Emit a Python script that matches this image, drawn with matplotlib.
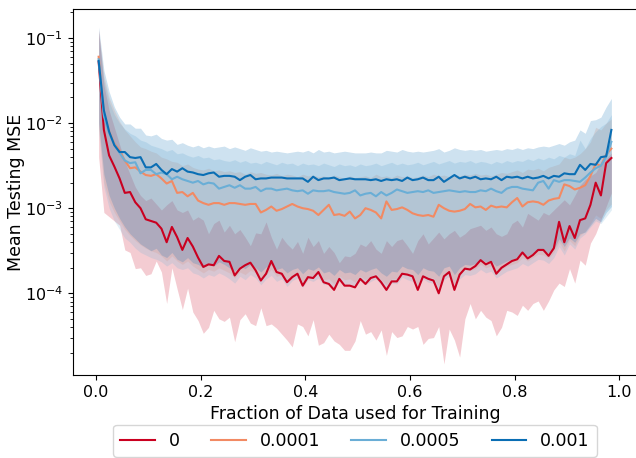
import numpy as np
import matplotlib
matplotlib.use("Agg")
import matplotlib.pyplot as plt

# ── data (log10 of MSE) ───────────────────────────────────────────────────────
frac = np.arange(0.005, 0.99, 0.01)  # 99 training fractions
labels = ["0", "0.0001", "0.0005", "0.001"]
colours = ["#ca0020", "#f28a63", "#6aaed6", "#0a6eb4"]

mean_0 = [
    -1.28, -2.08, -2.38, -2.51, -2.65, -2.82, -2.81, -2.93, -3.00, -3.13,
    -3.15, -3.17, -3.24, -3.40, -3.22, -3.34, -3.49, -3.35, -3.45, -3.58,
    -3.69, -3.66, -3.67, -3.56, -3.62, -3.63, -3.79, -3.71, -3.67, -3.64,
    -3.73, -3.85, -3.77, -3.62, -3.75, -3.77, -3.87, -3.81, -3.77, -3.91,
    -3.81, -3.82, -3.75, -3.87, -3.89, -3.96, -3.83, -3.91, -3.91, -3.93,
    -3.83, -3.89, -3.82, -3.80, -3.87, -3.96, -3.86, -3.86, -3.77, -3.78,
    -3.80, -3.96, -3.80, -3.83, -3.85, -4.00, -3.80, -3.75, -3.96, -3.78,
    -3.71, -3.72, -3.68, -3.61, -3.66, -3.63, -3.77, -3.70, -3.66, -3.62,
    -3.60, -3.52, -3.59, -3.55, -3.49, -3.49, -3.56, -3.47, -3.16, -3.40,
    -3.21, -3.35, -3.14, -3.12, -2.96, -2.70, -2.85, -2.47, -2.41]
lo_0 = [
    -2.40, -3.05, -3.10, -3.15, -3.20, -3.49, -3.52, -3.71, -3.70, -3.79,
    -3.77, -3.62, -3.75, -4.12, -3.70, -3.95, -4.19, -3.94, -4.22, -4.32,
    -4.47, -4.40, -4.20, -4.30, -4.33, -4.28, -4.57, -4.31, -4.24, -4.35,
    -4.38, -4.17, -4.38, -4.36, -4.41, -4.48, -4.55, -4.63, -4.36, -4.39,
    -4.50, -4.31, -4.61, -4.58, -4.48, -4.56, -4.60, -4.67, -4.67, -4.56,
    -4.32, -4.48, -4.45, -4.55, -4.43, -4.73, -4.45, -4.52, -4.50, -4.39,
    -4.42, -4.39, -4.60, -4.53, -4.52, -4.39, -4.83, -4.42, -4.55, -4.75,
    -4.30, -4.12, -4.30, -4.20, -4.28, -4.32, -4.50, -4.40, -4.20, -4.22,
    -4.26, -4.14, -4.20, -4.12, -4.09, -4.20, -4.09, -3.96, -3.88, -3.92,
    -3.71, -3.88, -3.61, -3.67, -3.41, -3.30, -3.14, -2.98, -2.82]
hi_0 = [
    -0.90, -1.55, -1.85, -2.05, -2.25, -2.45, -2.60, -2.75, -2.85, -2.91,
    -2.88, -2.95, -3.02, -2.96, -2.91, -3.02, -3.05, -3.02, -3.14, -3.10,
    -3.14, -3.30, -3.18, -3.14, -3.28, -3.20, -3.30, -3.25, -3.34, -3.44,
    -3.29, -3.30, -3.16, -3.34, -3.48, -3.34, -3.42, -3.48, -3.39, -3.53,
    -3.34, -3.45, -3.38, -3.53, -3.45, -3.52, -3.64, -3.56, -3.57, -3.53,
    -3.42, -3.45, -3.38, -3.48, -3.53, -3.38, -3.45, -3.38, -3.36, -3.44,
    -3.53, -3.38, -3.30, -3.42, -3.35, -3.28, -3.36, -3.30, -3.26, -3.34,
    -3.30, -3.24, -3.22, -3.20, -3.26, -3.22, -3.30, -3.33, -3.30, -3.18,
    -3.14, -3.22, -3.06, -3.10, -3.14, -3.05, -3.08, -3.02, -2.96, -2.90,
    -2.96, -2.85, -2.73, -2.66, -2.62, -2.58, -2.47, -2.42, -2.35]

mean_1 = [
    -1.22, -1.90, -2.10, -2.24, -2.32, -2.44, -2.53, -2.52, -2.57, -2.61,
    -2.62, -2.60, -2.65, -2.71, -2.68, -2.82, -2.81, -2.86, -2.82, -2.91,
    -2.94, -2.96, -2.94, -2.94, -2.96, -2.94, -2.94, -2.95, -2.96, -2.95,
    -2.95, -3.05, -3.02, -2.98, -3.03, -3.01, -2.98, -2.95, -2.98, -3.00,
    -3.01, -3.03, -3.08, -3.02, -2.96, -3.08, -3.07, -3.09, -3.04, -3.12,
    -3.08, -3.00, -3.02, -3.05, -3.12, -2.92, -3.02, -3.01, -2.99, -3.02,
    -3.06, -3.08, -3.09, -3.08, -3.10, -2.96, -3.00, -3.03, -3.04, -3.03,
    -3.01, -2.95, -2.99, -2.98, -3.02, -2.97, -2.99, -2.98, -2.99, -2.93,
    -2.88, -2.98, -2.93, -2.92, -2.93, -2.96, -2.91, -2.89, -2.88, -2.72,
    -2.74, -2.78, -2.76, -2.73, -2.62, -2.48, -2.50, -2.37, -2.30]
lo_1 = [
    -2.05, -2.70, -2.92, -3.05, -3.15, -3.25, -3.32, -3.38, -3.43, -3.47,
    -3.50, -3.52, -3.56, -3.62, -3.56, -3.62, -3.66, -3.62, -3.68, -3.72,
    -3.76, -3.72, -3.74, -3.70, -3.73, -3.76, -3.82, -3.75, -3.78, -3.73,
    -3.76, -3.84, -3.78, -3.72, -3.80, -3.78, -3.86, -3.80, -3.77, -3.87,
    -3.79, -3.80, -3.76, -3.84, -3.83, -3.89, -3.80, -3.84, -3.83, -3.87,
    -3.80, -3.84, -3.80, -3.77, -3.84, -3.90, -3.83, -3.83, -3.76, -3.78,
    -3.80, -3.90, -3.78, -3.81, -3.82, -3.92, -3.78, -3.74, -3.90, -3.77,
    -3.72, -3.73, -3.71, -3.66, -3.70, -3.68, -3.76, -3.72, -3.68, -3.66,
    -3.64, -3.58, -3.62, -3.58, -3.54, -3.55, -3.59, -3.52, -3.40, -3.50,
    -3.38, -3.44, -3.32, -3.27, -3.18, -3.08, -3.12, -3.02, -2.95]
hi_1 = [
    -0.92, -1.45, -1.70, -1.85, -1.98, -2.08, -2.15, -2.22, -2.28, -2.30,
    -2.33, -2.35, -2.40, -2.42, -2.45, -2.46, -2.50, -2.48, -2.52, -2.54,
    -2.55, -2.53, -2.56, -2.55, -2.57, -2.56, -2.58, -2.57, -2.60, -2.57,
    -2.59, -2.58, -2.60, -2.61, -2.59, -2.62, -2.60, -2.61, -2.63, -2.60,
    -2.62, -2.61, -2.63, -2.62, -2.64, -2.61, -2.63, -2.65, -2.62, -2.64,
    -2.63, -2.62, -2.64, -2.60, -2.63, -2.62, -2.64, -2.61, -2.63, -2.62,
    -2.64, -2.63, -2.61, -2.63, -2.60, -2.62, -2.61, -2.63, -2.60, -2.62,
    -2.60, -2.61, -2.59, -2.61, -2.60, -2.62, -2.60, -2.58, -2.59, -2.57,
    -2.55, -2.58, -2.54, -2.55, -2.53, -2.56, -2.52, -2.50, -2.48, -2.40,
    -2.42, -2.40, -2.36, -2.30, -2.22, -2.05, -2.08, -2.00, -1.95]

mean_2 = [
    -1.25, -1.92, -2.12, -2.25, -2.35, -2.44, -2.47, -2.46, -2.59, -2.55,
    -2.55, -2.60, -2.58, -2.60, -2.66, -2.63, -2.66, -2.68, -2.70, -2.68,
    -2.72, -2.70, -2.71, -2.77, -2.75, -2.73, -2.76, -2.73, -2.77, -2.77,
    -2.75, -2.80, -2.77, -2.77, -2.79, -2.78, -2.77, -2.79, -2.80, -2.79,
    -2.83, -2.79, -2.80, -2.80, -2.79, -2.81, -2.82, -2.83, -2.82, -2.79,
    -2.85, -2.83, -2.82, -2.86, -2.81, -2.85, -2.82, -2.78, -2.80, -2.82,
    -2.81, -2.80, -2.81, -2.79, -2.82, -2.81, -2.80, -2.79, -2.80, -2.81,
    -2.80, -2.81, -2.81, -2.79, -2.80, -2.77, -2.80, -2.82, -2.77, -2.75,
    -2.75, -2.77, -2.78, -2.79, -2.70, -2.68, -2.77, -2.67, -2.69, -2.67,
    -2.67, -2.68, -2.69, -2.64, -2.58, -2.53, -2.50, -2.40, -2.22]
lo_2 = [
    -2.10, -2.75, -3.00, -3.15, -3.25, -3.35, -3.40, -3.47, -3.52, -3.55,
    -3.58, -3.60, -3.63, -3.68, -3.64, -3.70, -3.72, -3.70, -3.76, -3.78,
    -3.82, -3.78, -3.80, -3.76, -3.79, -3.83, -3.88, -3.80, -3.84, -3.78,
    -3.82, -3.90, -3.83, -3.79, -3.86, -3.83, -3.92, -3.85, -3.82, -3.93,
    -3.84, -3.86, -3.82, -3.90, -3.88, -3.95, -3.86, -3.90, -3.89, -3.93,
    -3.85, -3.90, -3.86, -3.83, -3.90, -3.97, -3.88, -3.89, -3.81, -3.84,
    -3.86, -3.95, -3.83, -3.87, -3.88, -3.97, -3.84, -3.80, -3.95, -3.83,
    -3.78, -3.79, -3.77, -3.72, -3.76, -3.74, -3.82, -3.78, -3.74, -3.72,
    -3.70, -3.65, -3.68, -3.64, -3.60, -3.61, -3.65, -3.58, -3.45, -3.55,
    -3.42, -3.48, -3.35, -3.30, -3.22, -3.15, -3.18, -3.10, -3.02]
hi_2 = [
    -0.95, -1.50, -1.75, -1.90, -2.00, -2.07, -2.12, -2.15, -2.20, -2.22,
    -2.26, -2.28, -2.30, -2.33, -2.31, -2.36, -2.35, -2.38, -2.40, -2.38,
    -2.41, -2.40, -2.43, -2.42, -2.44, -2.45, -2.43, -2.46, -2.44, -2.47,
    -2.46, -2.48, -2.45, -2.47, -2.49, -2.46, -2.48, -2.47, -2.50, -2.47,
    -2.49, -2.48, -2.50, -2.47, -2.49, -2.51, -2.48, -2.50, -2.49, -2.51,
    -2.48, -2.50, -2.49, -2.47, -2.50, -2.48, -2.46, -2.49, -2.47, -2.49,
    -2.48, -2.46, -2.49, -2.47, -2.45, -2.48, -2.46, -2.44, -2.47, -2.45,
    -2.46, -2.44, -2.47, -2.45, -2.46, -2.48, -2.45, -2.47, -2.44, -2.46,
    -2.44, -2.45, -2.42, -2.44, -2.41, -2.43, -2.40, -2.42, -2.38, -2.40,
    -2.36, -2.38, -2.20, -2.30, -2.18, -2.10, -2.04, -2.00, -1.90]

mean_3 = [
    -1.27, -1.85, -2.10, -2.26, -2.34, -2.34, -2.40, -2.41, -2.40, -2.52,
    -2.52, -2.48, -2.55, -2.60, -2.54, -2.57, -2.53, -2.57, -2.58, -2.60,
    -2.61, -2.59, -2.58, -2.63, -2.62, -2.62, -2.63, -2.67, -2.63, -2.61,
    -2.66, -2.65, -2.65, -2.64, -2.64, -2.64, -2.65, -2.65, -2.65, -2.65,
    -2.69, -2.63, -2.67, -2.65, -2.65, -2.64, -2.67, -2.66, -2.65, -2.66,
    -2.66, -2.66, -2.67, -2.66, -2.68, -2.66, -2.67, -2.66, -2.68, -2.64,
    -2.67, -2.66, -2.64, -2.67, -2.67, -2.63, -2.69, -2.65, -2.61, -2.65,
    -2.63, -2.65, -2.63, -2.66, -2.65, -2.66, -2.63, -2.67, -2.63, -2.64,
    -2.63, -2.65, -2.63, -2.65, -2.64, -2.62, -2.65, -2.62, -2.63, -2.59,
    -2.60, -2.60, -2.49, -2.55, -2.48, -2.49, -2.40, -2.39, -2.08]
lo_3 = [
    -2.00, -2.60, -2.85, -3.00, -3.12, -3.22, -3.30, -3.36, -3.42, -3.46,
    -3.50, -3.47, -3.55, -3.58, -3.52, -3.60, -3.63, -3.58, -3.64, -3.66,
    -3.70, -3.66, -3.68, -3.63, -3.66, -3.70, -3.74, -3.68, -3.71, -3.66,
    -3.70, -3.75, -3.69, -3.66, -3.72, -3.70, -3.76, -3.72, -3.70, -3.77,
    -3.71, -3.73, -3.69, -3.76, -3.74, -3.79, -3.72, -3.76, -3.75, -3.78,
    -3.72, -3.75, -3.72, -3.70, -3.76, -3.80, -3.74, -3.75, -3.68, -3.71,
    -3.72, -3.78, -3.70, -3.73, -3.74, -3.80, -3.70, -3.68, -3.78, -3.70,
    -3.66, -3.67, -3.65, -3.60, -3.63, -3.62, -3.68, -3.65, -3.62, -3.60,
    -3.58, -3.53, -3.56, -3.53, -3.50, -3.50, -3.53, -3.48, -3.36, -3.45,
    -3.35, -3.40, -3.30, -3.28, -3.20, -3.12, -3.16, -3.05, -2.98]
hi_3 = [
    -0.87, -1.38, -1.63, -1.81, -1.93, -2.01, -2.01, -2.06, -2.06, -2.14,
    -2.15, -2.13, -2.18, -2.20, -2.19, -2.25, -2.23, -2.26, -2.28, -2.26,
    -2.29, -2.27, -2.29, -2.28, -2.27, -2.30, -2.28, -2.30, -2.32, -2.29,
    -2.31, -2.33, -2.32, -2.34, -2.33, -2.34, -2.35, -2.34, -2.33, -2.34,
    -2.32, -2.35, -2.31, -2.34, -2.33, -2.35, -2.34, -2.33, -2.34, -2.35,
    -2.35, -2.35, -2.34, -2.35, -2.35, -2.32, -2.33, -2.34, -2.31, -2.33,
    -2.34, -2.33, -2.34, -2.33, -2.32, -2.30, -2.34, -2.32, -2.29, -2.31,
    -2.32, -2.31, -2.32, -2.31, -2.33, -2.32, -2.31, -2.32, -2.30, -2.31,
    -2.29, -2.31, -2.29, -2.30, -2.28, -2.27, -2.28, -2.26, -2.24, -2.26,
    -2.22, -2.20, -2.08, -2.12, -1.97, -1.96, -1.93, -1.81, -1.71]

means = [mean_0, mean_1, mean_2, mean_3]
lows = [lo_0, lo_1, lo_2, lo_3]
highs = [hi_0, hi_1, hi_2, hi_3]

# ── figure ────────────────────────────────────────────────────────────────────
FS = 12.5       # axis labels / legend
TICK_FS = 11.5  # tick labels

fig = plt.figure(figsize=(6.36, 4.58), dpi=100)
ax = fig.add_axes([0.1148, 0.1812, 0.8868, 0.799])

for lo, hi, col in zip(lows, highs, colours):
    ax.fill_between(frac, 10 ** np.array(lo), 10 ** np.array(hi),
                    color=col, alpha=0.2, linewidth=0)

for m, col, lab in zip(means, colours, labels):
    ax.plot(frac, 10 ** np.array(m), color=col, linewidth=1.5, label=lab, zorder=3)

ax.set_yscale("log")
ax.set_ylim(10 ** -4.96, 10 ** -0.66)
ax.set_xticks([0.0, 0.2, 0.4, 0.6, 0.8, 1.0])
ax.tick_params(labelsize=TICK_FS)
ax.set_xlabel("Fraction of Data used for Training", fontsize=FS)
ax.set_ylabel("Mean Testing MSE", fontsize=FS, labelpad=0)

fig.legend(*ax.get_legend_handles_labels(), loc="upper center", ncol=4,
           fontsize=FS, bbox_to_anchor=(355 / 636, 33 / 458), borderaxespad=0,
           columnspacing=1.8)

fig.savefig("out.png", dpi=100)
